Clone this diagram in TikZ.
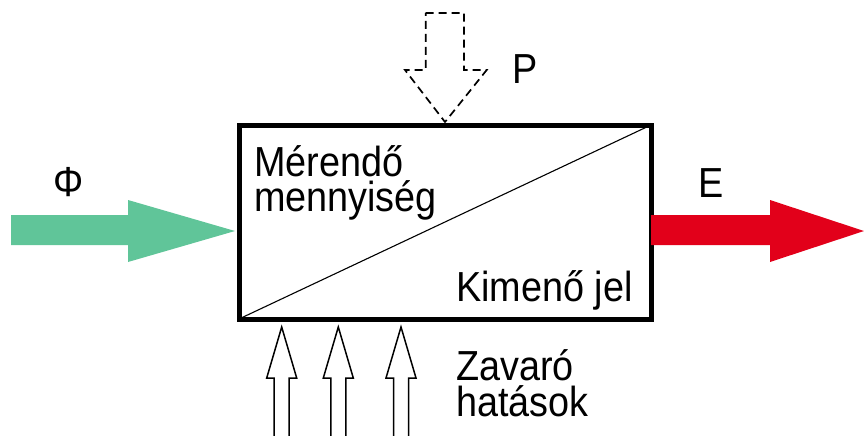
\documentclass[tikz,border=0pt]{standalone}
\usepackage{fontspec}
\setmainfont{Liberation Sans}[FakeStretch=0.9]
\usetikzlibrary{calc}
\definecolor{fluxgreen}{RGB}{96,197,153}
\definecolor{signalred}{RGB}{226,0,26}

\begin{document}
\begin{tikzpicture}[x=1pt,y=-1pt,
  txt/.style={inner sep=0pt, outer sep=0pt, font=\fontsize{42}{36}\selectfont},
  blockarrow/.style={line width=1.5pt, draw=black, fill=white, line join=miter},
  dashedarrow/.style={line width=1.7pt, draw=black, dash pattern=on 8pt off 5pt, line join=miter},
  sensor/.style={draw, line width=5pt, minimum width=412pt, minimum height=194pt, inner sep=0pt, outer sep=0pt}]
\useasboundingbox (0,0) rectangle (864,436);

% the measuring element
\node[sensor] (box) at (445,222) {};
\draw[line width=1.1pt] (box.south west) -- (box.north east);

% input quantity
\coordinate (phiTip) at (235,231);
\fill[fluxgreen] (11,215) -- (128,215) -- (128,200) -- (phiTip) -- (128,262) -- (128,245) -- (11,245) -- cycle;
\node[txt] (phi) at (68.5,182) {Φ};

% output signal
\coordinate (eStart) at ($(box.east)+(0,-7)$);
\fill[signalred] (eStart) -- (770,215) -- (770,200) -- (864,231) -- (770,262) -- (770,245) -- (eStart |- 0,245) -- cycle;
\node[txt] (e) at (710.7,182.7) {E};

% auxiliary power
\coordinate (pTip) at (445,122);
\draw[dashedarrow] (425.7,13) -- (464,13) -- (464,70) -- (486.7,70) -- (pTip) -- (405,70) -- (425.7,70) -- cycle;
\node[txt] (p) at (525.5,69) {P};

% disturbances
\foreach \c [count=\i] in {281.7,338.3,401} {
  \coordinate (dist\i) at (\c,327);
  \draw[blockarrow] (\c-7.5,440) -- (\c-7.5,378) -- (\c-15,378) -- (dist\i) -- (\c+15,378) -- (\c+7.5,378) -- (\c+7.5,440);
}

% labels
\node[txt, anchor=base west] (in1) at (254,176) {Mérendő};
\node[txt, anchor=base west] (in2) at (254,211) {mennyiség};
\node[txt, anchor=base west] (out) at (456,301) {Kimenő jel};
\node[txt, anchor=base west] (dz1) at (456,380) {Zavaró};
\node[txt, anchor=base west] (dz2) at (456,416.5) {hatások};
\end{tikzpicture}
\end{document}
